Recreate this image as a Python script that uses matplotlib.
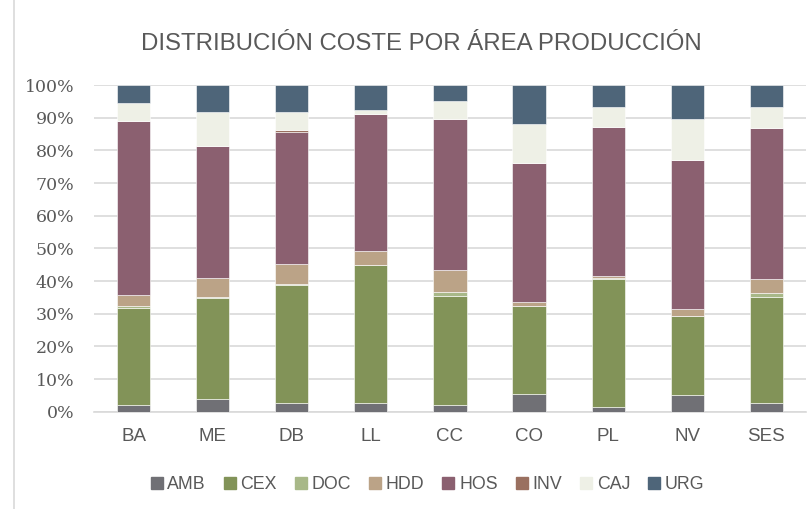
import numpy as np
import matplotlib.pyplot as plt
from matplotlib.lines import Line2D

plt.rcParams["font.family"] = ["DejaVu Serif", "Liberation Serif"]

areas = ["BA", "ME", "DB", "LL", "CC", "CO", "PL", "NV", "SES"]

amb = [2.2, 3.9, 2.8, 2.8, 2.1, 5.5, 1.6, 5.0, 2.8]
cex = [29.7, 30.8, 36.0, 42.0, 33.4, 26.9, 38.9, 24.2, 32.3]
doc = [0.4, 0.4, 0.2, 0.1, 1.2, 0.1, 0.3, 0.1, 1.2]
hdd = [3.4, 5.9, 6.3, 4.3, 6.6, 1.1, 0.7, 2.1, 4.3]
hos = [53.2, 40.3, 40.3, 41.8, 46.2, 42.4, 45.7, 45.6, 46.1]
inv = [0.1, 0.1, 0.6, 0.1, 0.1, 0.1, 0.1, 0.1, 0.1]
caj = [5.4, 10.3, 5.4, 1.2, 5.4, 11.9, 6.1, 12.5, 6.6]
urg = [5.6, 8.3, 8.4, 7.7, 5.0, 12.0, 6.6, 10.4, 6.6]

series = ["AMB", "CEX", "DOC", "HDD", "HOS", "INV", "CAJ", "URG"]
values = [amb, cex, doc, hdd, hos, inv, caj, urg]
colors = ["#707075", "#829358", "#a8b888", "#bba387", "#8b6070",
          "#9a7060", "#eef0e6", "#4e6579"]

yticks = list(range(0, 101, 10))
ytick_labels = [f"{v}%" for v in yticks]

fig = plt.figure(figsize=(8.1, 5.09), dpi=100)
ax = fig.add_axes([0.116, 0.191, 0.879, 0.642])

x = np.arange(len(areas))
bottom = np.zeros(len(areas))
for name, vals, col in zip(series, values, colors):
    vals = np.array(vals)
    ax.bar(x, vals, 0.42, bottom=bottom, color=col, label=name,
           edgecolor="white", linewidth=0.4, zorder=3)
    bottom += vals

ax.set_xlim(-0.5, len(areas) - 0.5)
ax.set_ylim(0, 100)
ax.set_yticks(yticks)
ax.set_yticklabels(ytick_labels)
ax.tick_params(axis="y", labelsize=12.5, labelcolor="#595959", pad=14)
ax.grid(axis="y", color="#d9d9d9", linewidth=1.2, zorder=0)
for s in ["top", "right", "left"]:
    ax.spines[s].set_visible(False)
ax.spines["bottom"].set_color("#d9d9d9")
ax.spines["bottom"].set_linewidth(1.2)
ax.tick_params(length=0)
ax.set_xticks(x)
ax.set_xticklabels(areas, fontsize=13.5, color="#595959", fontfamily="Liberation Sans")
ax.tick_params(axis="x", pad=12)

fig.text(0.52, 0.913, "DISTRIBUCIÓN COSTE POR ÁREA PRODUCCIÓN", ha="center", va="center",
         fontsize=17.3, color="#595959", family="Liberation Sans")

handles = [Line2D([], [], marker="s", linestyle="", markersize=8,
                  markerfacecolor=c, markeredgecolor=c) for c in colors]
fig.legend(handles, series, loc="center", bbox_to_anchor=(0.525, 0.048), ncol=8,
           frameon=False, handletextpad=0.0, columnspacing=0.75, handlelength=1.2,
           prop={"family": "Liberation Sans", "size": 12.8}, labelcolor="#595959")

fig.add_artist(Line2D([0.017, 0.017], [0, 1], color="#d9d9d9", linewidth=1.2))

plt.savefig("out.png", dpi=100)
